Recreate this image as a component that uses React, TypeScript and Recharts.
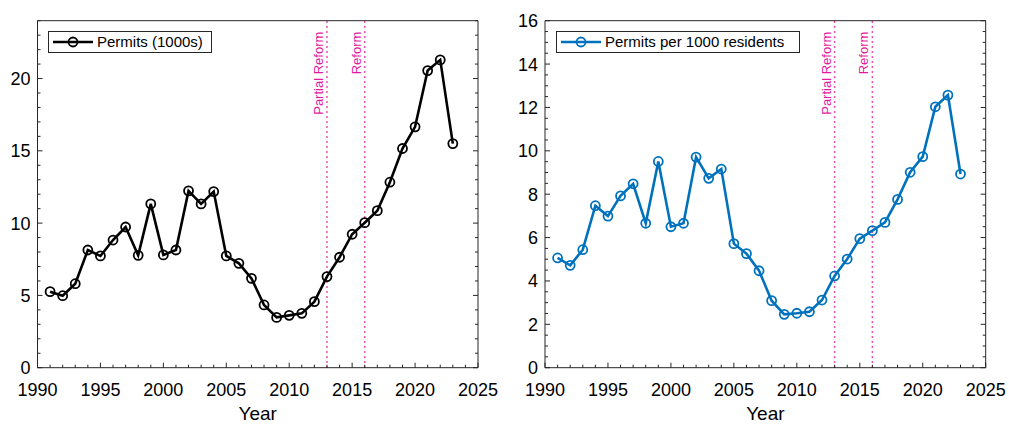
import React from 'react';
import {
  LineChart,
  Line,
  XAxis,
  YAxis,
  ReferenceLine,
} from 'recharts';

const YEARS = [
  1991, 1992, 1993, 1994, 1995, 1996, 1997, 1998, 1999, 2000, 2001,
  2002, 2003, 2004, 2005, 2006, 2007, 2008, 2009, 2010, 2011, 2012,
  2013, 2014, 2015, 2016, 2017, 2018, 2019, 2020, 2021, 2022, 2023,
];

const PERMITS = [
  5.26, 4.98, 5.81, 8.14, 7.73, 8.83, 9.73, 7.77, 11.33, 7.8, 8.14,
  12.23, 11.33, 12.18, 7.73, 7.22, 6.18, 4.34, 3.48, 3.62, 3.76, 4.57,
  6.3, 7.64, 9.23, 10.03, 10.86, 12.83, 15.16, 16.66, 20.55, 21.29, 15.5,
];

const PER_1000 = [
  5.06, 4.72, 5.44, 7.47, 6.99, 7.92, 8.48, 6.66, 9.51, 6.5, 6.66,
  9.71, 8.73, 9.16, 5.72, 5.26, 4.47, 3.09, 2.46, 2.51, 2.58, 3.12,
  4.23, 5.01, 5.95, 6.32, 6.7, 7.76, 9.01, 9.73, 12.03, 12.57, 8.93,
];

const X_LABELS = [1990, 1995, 2000, 2005, 2010, 2015, 2020, 2025];
const LEFT_Y_LABELS = [0, 5, 10, 15, 20];
const RIGHT_Y_LABELS = [0, 2, 4, 6, 8, 10, 12, 14, 16];

const REFORMS = [
  { year: 2013, text: 'Partial Reform' },
  { year: 2016, text: 'Reform' },
];

const FONT = '"Liberation Sans", Arial, Helvetica, sans-serif';
const AXIS = '#262626';
const MAGENTA = '#e3199f';

// minor tick positions (every step between lo and hi)
const steps = (lo: number, hi: number, step: number) => {
  const out: number[] = [];
  for (let v = lo; v <= hi + 1e-9; v += step) out.push(Math.round(v * 100) / 100);
  return out;
};

const X_TICKS = steps(1990, 2025, 1);

const isMajor = (v: number, labels: number[]) => labels.some((l) => Math.abs(l - v) < 1e-6);

const makeBottomTick = (labels: number[]) => (props: any) => {
  const { x, y, payload } = props;
  const major = isMajor(payload.value, labels);
  return (
    <g>
      <line x1={x} x2={x} y1={y} y2={y - (major ? 5 : 3)} stroke={AXIS} strokeWidth={1} />
      {major && (
        <text x={x} y={y + 28} textAnchor="middle" fontSize={18} fill="#000" fontFamily={FONT}>
          {payload.value}
        </text>
      )}
    </g>
  );
};

const makeTopTick = (labels: number[]) => (props: any) => {
  const { x, y, payload } = props;
  const major = isMajor(payload.value, labels);
  return <line x1={x} x2={x} y1={y} y2={y + (major ? 5 : 3)} stroke={AXIS} strokeWidth={1} />;
};

const makeLeftTick = (labels: number[]) => (props: any) => {
  const { x, y, payload } = props;
  const major = isMajor(payload.value, labels);
  return (
    <g>
      <line x1={x} x2={x + (major ? 5 : 3)} y1={y} y2={y} stroke={AXIS} strokeWidth={1} />
      {major && (
        <text x={x - 7} y={y + 6.5} textAnchor="end" fontSize={18} fill="#000" fontFamily={FONT}>
          {payload.value}
        </text>
      )}
    </g>
  );
};

const makeRightTick = (labels: number[]) => (props: any) => {
  const { x, y, payload } = props;
  const major = isMajor(payload.value, labels);
  return <line x1={x} x2={x - (major ? 5 : 3)} y1={y} y2={y} stroke={AXIS} strokeWidth={1} />;
};

const ReformLabel = (props: any) => {
  const { viewBox, text } = props;
  const tx = viewBox.x - 4;
  const ty = viewBox.y + 11;
  return (
    <text
      x={tx}
      y={ty}
      transform={`rotate(-90 ${tx} ${ty})`}
      textAnchor="end"
      fontSize={13}
      fill={MAGENTA}
      fontFamily={FONT}
    >
      {text}
    </text>
  );
};

const YearLabel = (props: any) => {
  const { viewBox } = props;
  return (
    <text
      x={viewBox.x + viewBox.width / 2}
      y={viewBox.y + 52}
      textAnchor="middle"
      fontSize={19}
      fill="#000"
      fontFamily={FONT}
    >
      Year
    </text>
  );
};

const LegendBox = ({ color, text, width }: { color: string; text: string; width: number }) => (
  <svg width={width} height={22} style={{ display: 'block' }}>
    <rect x={0.5} y={0.5} width={width - 1} height={21} fill="#fff" stroke={AXIS} strokeWidth={1} />
    <line x1={5} x2={45} y1={11} y2={11} stroke={color} strokeWidth={2.5} />
    <circle cx={25} cy={11} r={4.5} fill="none" stroke={color} strokeWidth={1.8} />
    <text x={49} y={16} fontSize={15} fill="#000" fontFamily={FONT}>
      {text}
    </text>
  </svg>
);

interface PanelProps {
  values: number[];
  yMax: number;
  yLabels: number[];
  yMinorStep: number;
  color: string;
  legendText: string;
  legendWidth: number;
  width: number;
  // plot box edges inside this panel
  plot: { left: number; right: number; top: number; bottom: number };
}

const Panel: React.FC<PanelProps> = ({
  values,
  yMax,
  yLabels,
  yMinorStep,
  color,
  legendText,
  legendWidth,
  width,
  plot,
}) => {
  const data = YEARS.map((year, i) => ({ year, value: values[i] }));
  const yTicks = steps(0, yMax, yMinorStep);
  // axes get 1px of room each, so pull the margins in by 1
  const margin = {
    top: plot.top - 1,
    left: plot.left - 1,
    right: width - plot.right - 1,
    bottom: 425 - plot.bottom - 1,
  };
  return (
    <div style={{ position: 'relative', width, height: 425 }}>
      <LineChart width={width} height={425} data={data} margin={margin}>
        <XAxis
          dataKey="year"
          type="number"
          domain={[1990, 2025]}
          ticks={X_TICKS}
          interval={0}
          height={1}
          tickSize={0}
          tickMargin={0}
          tickLine={false}
          axisLine={{ stroke: AXIS, strokeWidth: 1 }}
          tick={makeBottomTick(X_LABELS)}
          allowDataOverflow
          label={<YearLabel />}
        />
        <XAxis
          xAxisId="top"
          orientation="top"
          type="number"
          domain={[1990, 2025]}
          ticks={X_TICKS}
          interval={0}
          height={1}
          tickSize={0}
          tickMargin={0}
          tickLine={false}
          axisLine={{ stroke: AXIS, strokeWidth: 1 }}
          tick={makeTopTick(X_LABELS)}
          allowDataOverflow
        />
        <YAxis
          type="number"
          domain={[0, yMax]}
          ticks={yTicks}
          interval={0}
          width={1}
          tickSize={0}
          tickMargin={0}
          tickLine={false}
          axisLine={{ stroke: AXIS, strokeWidth: 1 }}
          tick={makeLeftTick(yLabels)}
          allowDataOverflow
        />
        <YAxis
          yAxisId="right"
          orientation="right"
          type="number"
          domain={[0, yMax]}
          ticks={yTicks}
          interval={0}
          width={1}
          tickSize={0}
          tickMargin={0}
          tickLine={false}
          axisLine={{ stroke: AXIS, strokeWidth: 1 }}
          tick={makeRightTick(yLabels)}
          allowDataOverflow
        />
        {REFORMS.map((r) => (
          <ReferenceLine
            key={r.year}
            x={r.year}
            stroke={MAGENTA}
            strokeWidth={1.5}
            strokeDasharray="1.5 3.5"
            label={<ReformLabel text={r.text} />}
          />
        ))}
        <Line
          type="linear"
          dataKey="value"
          stroke={color}
          strokeWidth={2.6}
          dot={{ r: 4.5, stroke: color, strokeWidth: 1.8, fill: 'none' }}
          isAnimationActive={false}
        />
      </LineChart>
      <div style={{ position: 'absolute', left: plot.left + 10.5, top: plot.top + 10.5 }}>
        <LegendBox color={color} text={legendText} width={legendWidth} />
      </div>
    </div>
  );
};

export default function App() {
  return (
    <div
      style={{
        position: 'absolute',
        left: 0,
        top: 0,
        width: 1009,
        height: 425,
        background: '#fff',
      }}
    >
      <div style={{ position: 'absolute', left: 0, top: 0 }}>
        <Panel
          values={PERMITS}
          yMax={24}
          yLabels={LEFT_Y_LABELS}
          yMinorStep={1}
          color="#000000"
          legendText="Permits (1000s)"
          legendWidth={164}
          width={505}
          plot={{ left: 37.5, right: 478, top: 20.7, bottom: 367.7 }}
        />
      </div>
      <div style={{ position: 'absolute', left: 505, top: 0 }}>
        <Panel
          values={PER_1000}
          yMax={16}
          yLabels={RIGHT_Y_LABELS}
          yMinorStep={0.5}
          color="#0072BD"
          legendText="Permits per 1000 residents"
          legendWidth={244}
          width={504}
          plot={{ left: 40, right: 480.7, top: 20.7, bottom: 367.7 }}
        />
      </div>
    </div>
  );
}
